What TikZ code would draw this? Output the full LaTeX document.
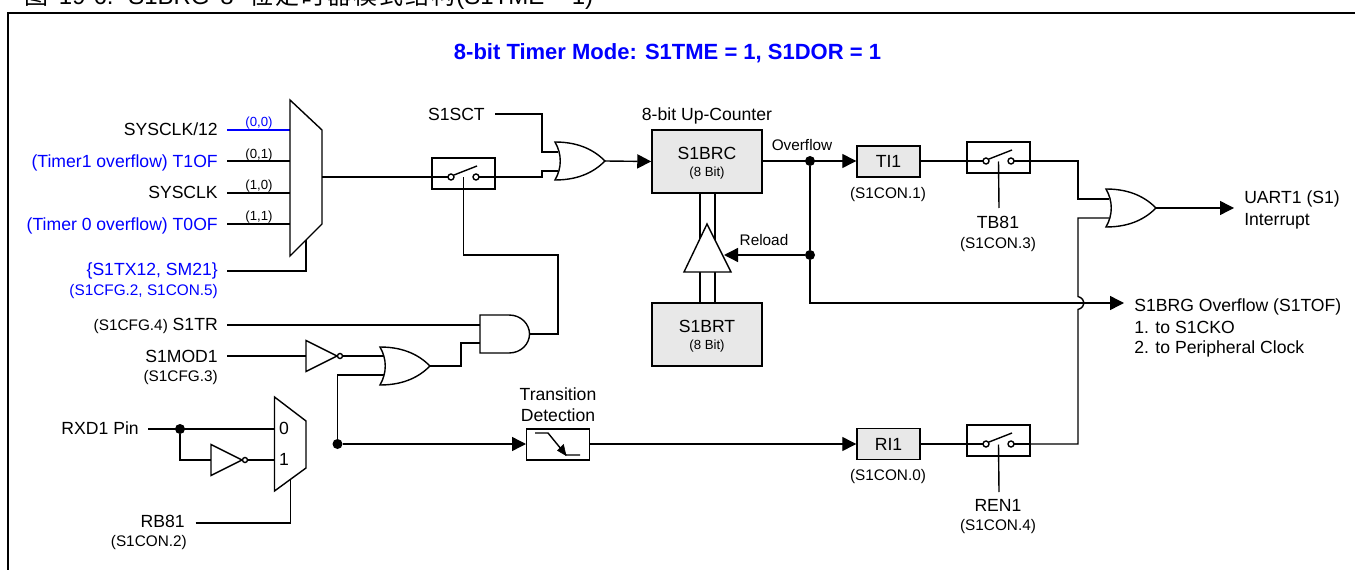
\documentclass[tikz,border=0pt]{standalone}
\usepackage{fontspec}
\setmainfont{Liberation Sans}
\newfontfamily\cjkfont{Noto Sans CJK SC}
\newfontfamily\cjkspaced[LetterSpace=8]{Noto Sans CJK SC}
\usetikzlibrary{arrows.meta,calc}
\definecolor{regfill}{HTML}{E8E8E8}
\newcommand{\fbig}{\fontsize{13.2pt}{15pt}\selectfont}
\newcommand{\fmid}{\fontsize{11.5pt}{14pt}\selectfont}
\newcommand{\fsmall}{\fontsize{9.9pt}{12pt}\selectfont}
\tikzset{
  wire/.style={line width=1.05pt,line join=miter},
  arrowwire/.style={wire,-{Triangle[length=10.5pt,width=10.5pt]}},
  txtbig/.style={inner sep=0pt,font=\fbig,text height=9.5pt,text depth=0pt},
  txtmid/.style={inner sep=0pt,font=\fmid,text height=8.2pt,text depth=0pt},
  txtsmall/.style={inner sep=0pt,font=\fsmall,text height=7.1pt,text depth=0pt},
  reg/.style={draw,line width=1.1pt,fill=regfill,minimum width=82.5pt,minimum height=47.25pt,inner sep=0pt},
  flag/.style={draw,line width=1.1pt,fill=regfill,minimum width=47.25pt,minimum height=23.5pt,inner sep=0pt,font=\fbig},
  dotnode/.style={circle,fill=black,inner sep=0pt,minimum size=7.5pt},
  orgate/.pic={
    \draw[wire,fill=white] (0,-19) .. controls (25,-19) and (40,-10) .. (50,0)
      .. controls (40,10) and (25,19) .. (0,19)
      .. controls (7,7) and (7,-7) .. (0,-19) -- cycle;
    \coordinate (-o) at (50,0);
  },
  andgate/.pic={
    \draw[wire,fill=white] (0,-19) -- (29,-19) .. controls (41,-19) and (49.5,-10) .. (49.5,0)
      .. controls (49.5,10) and (41,19) .. (29,19) -- (0,19) -- cycle;
    \coordinate (-o) at (49.5,0);
  },
  inverter/.pic={
    \draw[wire,fill=white] (0,-15.5) -- (31,0) -- (0,15.5) -- cycle;
    \draw[wire,fill=white] (34,0) circle[radius=2.5];
    \coordinate (-in) at (0,0);
    \coordinate (-o) at (36.5,0);
  },
  switchbox/.pic={
    \draw[wire] (0,-19) rectangle (63,12);
    \draw[wire] (0,0) -- (19,0) (44,0) -- (63,0);
    \draw[wire,fill=white] (19,0) circle[radius=3];
    \draw[wire,fill=white] (44,0) circle[radius=3];
    \draw[wire] (22,-2) -- (45,-11);
    \coordinate (-in) at (0,0);
    \coordinate (-o) at (63,0);
    \coordinate (-ctl) at (31.5,0.5);
  },
}
\begin{document}
\begin{tikzpicture}[x=0.75pt,y=-0.75pt]
\useasboundingbox (0,0) rectangle (1355,570);
\clip (0,0) rectangle (1355,570);

% document caption, cut by the top edge
\node[anchor=base west,inner sep=0pt,font=\fontsize{18pt}{20pt}\selectfont] (caption) at (24,5)
  {{\cjkfont 图}\hspace{8pt}19-6.\hspace{11pt}S1BRG\hspace{8pt}8\hspace{12pt}{\cjkspaced 位定时器模式结构}\hspace{1pt}(S1TME = 1)};

% frame
\draw[line width=1.6pt] (8,575) -- (8,13) -- (1360,13);

\node[inner sep=0pt,font=\bfseries\fontsize{12.5pt}{15pt}\selectfont,text=blue,text height=9.5pt,text depth=0pt] (heading) at (667.5,53)
  {\fontsize{16.5pt}{18pt}\selectfont 8-bit Timer Mode: S1TME = 1, S1DOR = 1};

% clock source labels
\node[txtbig,anchor=east] (lsys12) at (218,129) {SYSCLK/12};
\node[txtbig,anchor=east,text=blue] (lt1of) at (218,161) {(Timer1 overflow) T1OF};
\node[txtbig,anchor=east] (lsys) at (218,192) {SYSCLK};
\node[txtbig,anchor=east,text=blue] (lt0of) at (218,224) {(Timer 0 overflow) T0OF};
\node[txtbig,anchor=east,text=blue] (lsel) at (218,269) {\{S1TX12, SM21\}};
\node[txtmid,anchor=east,text=blue] (lselb) at (218,290) {(S1CFG.2, S1CON.5)};
\node[txtsmall,text=blue] (c00) at (259,122) {(0,0)};
\node[txtsmall] (c01) at (259,154) {(0,1)};
\node[txtsmall] (c10) at (259,185) {(1,0)};
\node[txtsmall] (c11) at (259,216) {(1,1)};

\coordinate (w00) at (227,130);
\coordinate (w01) at (227,161);
\coordinate (w10) at (227,193);
\coordinate (w11) at (227,224);
\coordinate (wsel) at (227,271);
\coordinate (m00) at (290,130);
\coordinate (m01) at (290,161);
\coordinate (m10) at (290,193);
\coordinate (m11) at (290,224);
\coordinate (msel) at (306,240);
\coordinate (mout) at (322,177);

\draw[wire,blue] (w00) -- (m00);
\draw[wire] (w01) -- (m01);
\draw[wire] (w10) -- (m10);
\draw[wire] (w11) -- (m11);
\draw[wire] (wsel) -| (msel);
\draw[wire,fill=white] (290,100) -- (322,130) -- (322,224) -- (290,256) -- cycle;

% S1TR enable path
\node[txtbig,anchor=east] (ls1tr) at (218,324) {{\fmid (S1CFG.4)} S1TR};
\node[txtbig,anchor=east] (lmod) at (218,356) {S1MOD1};
\node[txtmid,anchor=east] (lmodb) at (218,376) {(S1CFG.3)};
\node[txtbig,anchor=east] (lrxd) at (139,428) {RXD1 Pin};
\node[txtbig,anchor=east] (lrb81) at (185,521) {RB81};
\node[txtmid,anchor=east] (lrb81b) at (187,541) {(S1CON.2)};

\coordinate (wtr) at (227,325);
\coordinate (wmod) at (227,356);
\coordinate (wrxd) at (148,429);
\coordinate (wrb) at (195.5,523);
\coordinate (mx0) at (274.5,429);
\coordinate (mx1) at (274.5,460);
\coordinate (mxs) at (290.25,480);
\coordinate (mxo) at (306,444);

\node[dotnode] (drxd) at (180,429) {};
\node[dotnode] (dmx) at (337.5,444) {};

\draw[wire] (wrxd) -- (mx0);
\pic (inv2) at (211,460) {inverter};
\draw[wire] (drxd) |- (inv2-in);
\draw[wire] (inv2-o) -- (mx1);
\draw[wire] (wrb) -| (mxs);
\draw[wire,fill=white] (274.5,397) -- (306,421) -- (306,468) -- (274.5,491) -- cycle;
\node[txtbig] (m0) at (284,428) {0};
\node[txtbig] (m1) at (284,459) {1};

\coordinate (orbin1) at (384,356);
\coordinate (orbin2) at (384,375);
\coordinate (andin1) at (480,325);
\coordinate (andin2) at (480,343);
\draw[wire] (wtr) -- (andin1);
\pic (inv1) at (306,356) {inverter};
\draw[wire] (wmod) -- (inv1-in);
\draw[wire] (inv1-o) -- (orbin1);
\draw[wire] (dmx) |- (orbin2);
\pic (orb) at (380,366) {orgate};
\draw[wire] (orb-o) -- (461,366) |- (andin2);
\pic (andg) at (480,334) {andgate};

% switch 1 and OR into counter
\pic (sw1) at (432,177) {switchbox};
\draw[wire] (mout) -- (sw1-in);
\draw[wire] (sw1-ctl) |- (558,255) |- (andg-o);
\node[txtbig,anchor=east] (ls1sct) at (485,114) {S1SCT};
\coordinate (ws1sct) at (495,114);
\coordinate (ora1) at (558,152);
\coordinate (ora2) at (558,171);
\draw[wire] (ws1sct) -| (542,152) -- (ora1);
\draw[wire] (sw1-o) -| (542,171) -- (ora2);
\pic (ora) at (555,161) {orgate};

% counter
\node[txtbig] (lcnt) at (707,114) {8-bit Up-Counter};
\node[reg] (s1brc) at (707,161.5) {};
\node[txtbig] (tbrc) at (707,153) {S1BRC};
\node[txtsmall] (tbrc8) at (707,172) {(8 Bit)};
\node[reg] (s1brt) at (707,334.5) {};
\node[txtbig] (tbrt) at (707,326) {S1BRT};
\node[txtsmall] (tbrt8) at (707,345) {(8 Bit)};
\draw[arrowwire] (ora-o) -- (s1brc.west);

\draw[wire] (700,193) -- (700,303) (715,193) -- (715,303);
\draw[wire,fill=white] (707,224) -- (731,272) -- (684,272) -- cycle;
\coordinate (tri) at (724,255);

% overflow net
\node[flag] (ti1) at (888.5,161.5) {TI1};
\node[flag] (ri1) at (888.5,444) {RI1};
\node[dotnode] (dov) at (810,161) {};
\node[dotnode] (drl) at (810,255) {};
\node[txtmid] (lov) at (802,145) {Overflow};
\node[txtmid] (lrl) at (764,240) {Reload};
\draw[arrowwire] (s1brc.east |- dov) -- (ti1.west |- dov);
\draw[wire] (dov) -- (drl);
\draw[arrowwire] (drl) -- (tri);
\coordinate (wtof) at (1124,303);
\draw[arrowwire] (drl) |- (wtof);
\node[txtmid] (lti1) at (888,193) {(S1CON.1)};
\node[txtmid] (lri1) at (888,475) {(S1CON.0)};

% transition detection
\node[txtbig] (ltr1) at (558,394) {Transition};
\node[txtbig] (ltr2) at (558,415) {Detection};
\node[draw,line width=1pt,minimum width=47pt,minimum height=23.25pt,inner sep=0pt] (tdet) at (558,444.5) {};
\draw[wire] (535,433) -- (548,433) -- (566,455) -- (580,455);
\draw[fill=black] (566,455.5) -- (557.5,450.5) -- (563.5,444.5) -- cycle;
\draw[arrowwire] (dmx) -- (tdet.west |- dmx);
\draw[arrowwire] (tdet.east |- ri1) -- (ri1.west);

% switches to the final OR
\pic (sw2) at (967,161) {switchbox};
\pic (sw3) at (967,444) {switchbox};
\draw[wire] (ti1.east |- sw2-in) -- (sw2-in);
\draw[wire] (ri1.east) -- (sw3-in);
\coordinate (wtb) at (999,208);
\coordinate (wren) at (999,492);
\draw[wire] (sw2-ctl) -- (wtb);
\draw[wire] (sw3-ctl) -- (wren);
\node[txtbig] (ltb) at (998,222) {TB81};
\node[txtmid] (ltbb) at (998,243) {(S1CON.3)};
\node[txtbig] (lren) at (998,505) {REN1};
\node[txtmid] (lrenb) at (998,525) {(S1CON.4)};

\coordinate (orf1) at (1109,199);
\coordinate (orf2) at (1109,218);
\draw[wire] (sw2-o) -| (1078,199) -- (orf1);
\draw[wire] (sw3-o) -| (1078,309.5) .. controls (1086,307) and (1086,299) .. (1078,296.5) -- (1078,218) -- (orf2);
\pic (orf) at (1106,208) {orgate};
\coordinate (wint) at (1234,208);
\draw[arrowwire] (orf-o) -- (wint);
\node[txtbig,anchor=west] (lu1) at (1244,197) {UART1 (S1)};
\node[txtbig,anchor=west] (lu2) at (1244,219) {Interrupt};
\node[txtbig,anchor=west] (ls1) at (1134,305) {S1BRG Overflow (S1TOF)};
\node[txtbig,anchor=west] (ls2) at (1134,327) {1. to S1CKO};
\node[txtbig,anchor=west] (ls3) at (1134,347) {2. to Peripheral Clock};
\end{tikzpicture}
\end{document}
